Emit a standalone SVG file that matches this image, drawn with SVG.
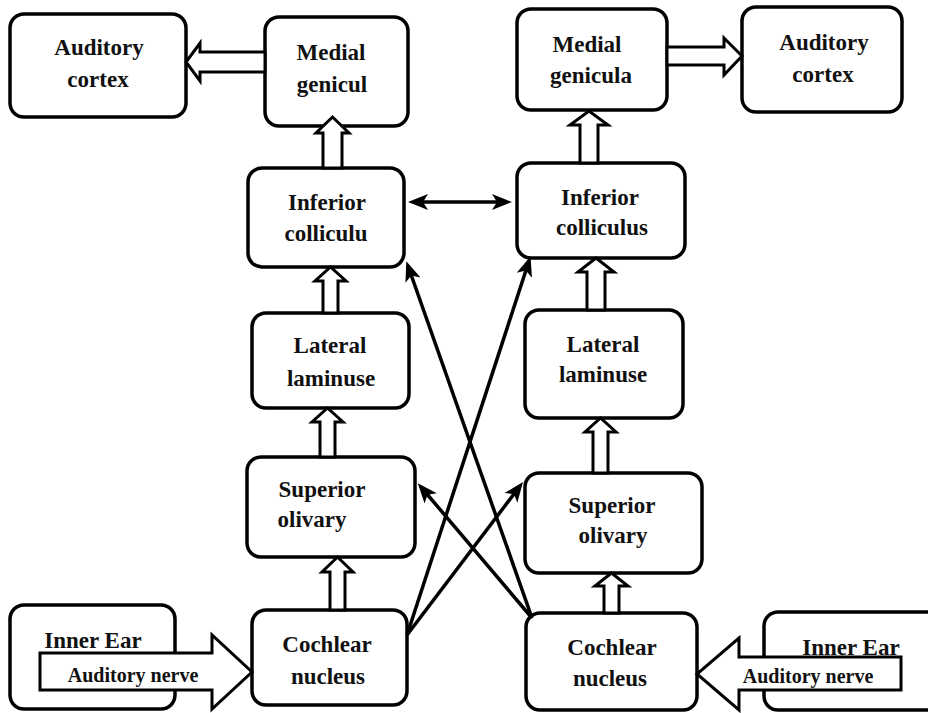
<svg xmlns="http://www.w3.org/2000/svg" width="928" height="713" viewBox="0 0 928 713">
  <defs>
    <marker id="ah" markerUnits="userSpaceOnUse" markerWidth="20" markerHeight="18" viewBox="0 0 20 18" refX="15" refY="9" orient="auto-start-reverse">
      <path d="M0,1 L20,9 L0,17 L5,9 z" fill="#000"/>
    </marker>
  </defs>
  <style>
    .box { fill: #fff; stroke: #000; stroke-width: 3.5; }
    .lbl { font-family: "Liberation Serif", "Times New Roman", serif; font-weight: bold; font-size: 23px; fill: #111; text-anchor: middle; }
    .nlbl { font-family: "Liberation Serif", "Times New Roman", serif; font-weight: bold; font-size: 20px; fill: #111; text-anchor: middle; }
    .hollow { fill: #fff; stroke: #000; stroke-width: 3; stroke-linejoin: miter; }
    .solid { fill: none; stroke: #000; stroke-width: 3.5; }
  </style>
  <rect width="928" height="713" fill="#fff"/>

  <!-- Left column -->
  <g id="auditory-cortex-left">
    <rect class="box" x="10" y="14" width="176" height="103" rx="14"/>
    <text class="lbl" x="99" y="55">Auditory</text>
    <text class="lbl" x="98" y="87">cortex</text>
  </g>
  <g id="medial-genicul-left">
    <rect class="box" x="265" y="17" width="143" height="109" rx="14"/>
    <text class="lbl" x="331" y="60">Medial</text>
    <text class="lbl" x="332" y="92">genicul</text>
  </g>
  <g id="inferior-colliculu-left">
    <rect class="box" x="248" y="168" width="156" height="99" rx="14"/>
    <text class="lbl" x="327" y="210">Inferior</text>
    <text class="lbl" x="326" y="241">colliculu</text>
  </g>
  <g id="lateral-laminuse-left">
    <rect class="box" x="252" y="313" width="157" height="95" rx="14"/>
    <text class="lbl" x="330" y="353">Lateral</text>
    <text class="lbl" x="331" y="386">laminuse</text>
  </g>
  <g id="superior-olivary-left">
    <rect class="box" x="247" y="457" width="168" height="100" rx="14"/>
    <text class="lbl" x="322" y="497">Superior</text>
    <text class="lbl" x="312" y="527">olivary</text>
  </g>
  <g id="cochlear-nucleus-left">
    <rect class="box" x="252" y="610" width="155" height="95" rx="14"/>
    <text class="lbl" x="327" y="652">Cochlear</text>
    <text class="lbl" x="328" y="684">nucleus</text>
  </g>
  <g id="inner-ear-left">
    <rect class="box" x="10" y="605" width="165" height="104" rx="14"/>
    <text class="lbl" x="93" y="648">Inner Ear</text>
  </g>

  <!-- Right column -->
  <g id="medial-genicula-right">
    <rect class="box" x="517" y="9" width="150" height="101" rx="14"/>
    <text class="lbl" x="587" y="52">Medial</text>
    <text class="lbl" x="591" y="83">genicula</text>
  </g>
  <g id="auditory-cortex-right">
    <rect class="box" x="742" y="7" width="160" height="105" rx="14"/>
    <text class="lbl" x="824" y="50">Auditory</text>
    <text class="lbl" x="823" y="82">cortex</text>
  </g>
  <g id="inferior-colliculus-right">
    <rect class="box" x="517" y="163" width="168" height="95" rx="14"/>
    <text class="lbl" x="600" y="205">Inferior</text>
    <text class="lbl" x="602" y="235">colliculus</text>
  </g>
  <g id="lateral-laminuse-right">
    <rect class="box" x="525" y="310" width="158" height="108" rx="14"/>
    <text class="lbl" x="603" y="352">Lateral</text>
    <text class="lbl" x="603" y="382">laminuse</text>
  </g>
  <g id="superior-olivary-right">
    <rect class="box" x="525" y="473" width="177" height="100" rx="14"/>
    <text class="lbl" x="612" y="513">Superior</text>
    <text class="lbl" x="613" y="543">olivary</text>
  </g>
  <g id="cochlear-nucleus-right">
    <rect class="box" x="526" y="613" width="171" height="97" rx="14"/>
    <text class="lbl" x="612" y="655">Cochlear</text>
    <text class="lbl" x="610" y="686">nucleus</text>
  </g>
  <g id="inner-ear-right">
    <rect class="box" x="764" y="612" width="185" height="98" rx="14"/>
    <text class="lbl" x="851" y="655">Inner Ear</text>
  </g>

  <!-- Connectors -->
  <g id="connectors">
    <!-- hollow block arrows -->
    <polygon class="hollow" points="265,52 200,52 200,43 186,62 200,81 200,72 265,72"/>
    <polygon class="hollow" points="323,168 323,133 316,133 332.5,117 349,133 342,133 342,168"/>
    <polygon class="hollow" points="323,313 323,281 315,281 330.5,267 346,281 338,281 338,313"/>
    <polygon class="hollow" points="320,457 320,422 312,422 327.5,408 343,422 335,422 335,457"/>
    <polygon class="hollow" points="330,610 330,572 322,572 337.5,557 353,572 345,572 345,610"/>
    <polygon class="hollow" points="580,163 580,125 570,125 589,111 608,125 598,125 598,163"/>
    <polygon class="hollow" points="587,310 587,272 578,272 596,258 614,272 605,272 605,310"/>
    <polygon class="hollow" points="593,473 593,432 585,432 600.5,418 616,432 608,432 608,473"/>
    <polygon class="hollow" points="604,613 604,586 595,586 611.5,573 628,586 619,586 619,613"/>
    <polygon class="hollow" points="667,47 724,47 724,38 742,56 724,75 724,65 667,65"/>
    <polygon class="hollow" points="40,653 212,653 212,635 252,672 212,709 212,690 40,690"/>
    <polygon class="hollow" points="901,657 739,657 739,638 697,674 739,710 739,690 901,690"/>
    <text class="nlbl" x="133" y="682">Auditory nerve</text>
    <text class="nlbl" x="808" y="683">Auditory nerve</text>

    <!-- solid arrows -->
    <line class="solid" x1="413" y1="202" x2="507" y2="202" marker-start="url(#ah)" marker-end="url(#ah)"/>
    <line class="solid" x1="407" y1="635" x2="529" y2="261" marker-end="url(#ah)"/>
    <line class="solid" x1="407" y1="635" x2="520" y2="486" marker-end="url(#ah)"/>
    <line class="solid" x1="532" y1="618" x2="408" y2="266" marker-end="url(#ah)"/>
    <line class="solid" x1="532" y1="618" x2="421" y2="487" marker-end="url(#ah)"/>
  </g>
</svg>
